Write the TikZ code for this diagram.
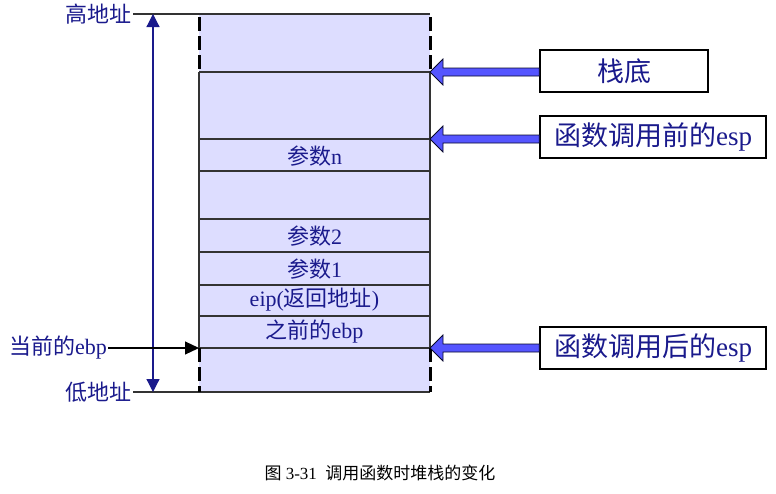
\documentclass[tikz,border=0pt]{standalone}
\usepackage{fontspec}
\setmainfont{Liberation Serif}
\newfontfamily\cjk{Noto Sans CJK SC}
\usetikzlibrary{arrows.meta,calc}
\definecolor{navy}{RGB}{26,26,140}
\definecolor{stackfill}{RGB}{221,221,255}
\definecolor{arrowblue}{RGB}{85,85,255}
\tikzset{
  cellline/.style={line width=1.2pt, draw=black!80},
  dashside/.style={line width=3pt, dash pattern=on 14pt off 5pt},
  celltext/.style={text=navy, font=\fontsize{22}{24}\selectfont, inner sep=0pt},
  sidelabel/.style={text=navy, font=\fontsize{22}{24}\selectfont, inner sep=1pt},
  rbox/.style={draw=black, line width=1.5pt, fill=white, text=navy, font=\fontsize{27}{30}\selectfont, minimum height=42pt, inner sep=0pt},
  blockarrow/.style={fill=arrowblue, draw=black!70!navy, line width=0.8pt},
}
\begin{document}
\begin{tikzpicture}[x=1pt,y=-1pt]
\useasboundingbox (0,0) rectangle (776,493);
% stack body
\fill[stackfill] (199,14) rectangle (430,392);
\foreach \yy in {72,139,171,219,252,285,316,348}
  \draw[cellline] (199,\yy) -- (430,\yy);
\draw[cellline] (133,14) -- (430,14);
\draw[cellline] (133,392) -- (430,392);
\draw[cellline] (199,72) -- (199,348);
\draw[cellline] (430,72) -- (430,348);
\draw[dashside] (199,17) -- (199,72);
\draw[dashside] (430,17) -- (430,72);
\draw[dashside] (199,348) -- (199,392);
\draw[dashside] (430,348) -- (430,392);
% cell texts
\node[celltext] (pn) at (314.5,156) {{\cjk 参数}n};
\node[celltext] (p2) at (314.5,236) {{\cjk 参数}2};
\node[celltext] (p1) at (314.5,269) {{\cjk 参数}1};
\node[celltext] (eip) at (314.5,300) {eip({\cjk 返回地址})};
\node[celltext] (oebp) at (314.5,332) {{\cjk 之前的}ebp};
% left side
\node[sidelabel, anchor=east] (hi) at (133,14) {\cjk 高地址};
\node[sidelabel, anchor=east] (lo) at (133,392) {\cjk 低地址};
\coordinate (atop) at (153,14);
\coordinate (abot) at (153,392);
\draw[navy, line width=1.2pt, {Triangle[length=13pt,width=13pt]}-{Triangle[length=13pt,width=13pt]}] (atop) -- (abot);
\node[sidelabel, anchor=east] (cebp) at (108,348) {{\cjk 当前的}ebp};
\coordinate (cebpend) at (199,348);
\draw[line width=1.2pt, -{Triangle[length=14pt,width=13pt]}] (cebp.east) -- (cebpend);
% right boxes
\node[rbox, minimum width=168pt] (b1) at (624,71) {\cjk 栈底};
\node[rbox, minimum width=226pt] (b2) at (653,137) {{\cjk 函数调用前的}esp};
\node[rbox, minimum width=226pt] (b3) at (653,348) {{\cjk 函数调用后的}esp};
% block arrows
\foreach \yy/\bx in {72/b1,139/b2,348/b3}{
  \draw[blockarrow] (430,\yy) -- (443,\yy-13) -- (443,\yy-4) -- (\bx.west |- 0,\yy-4) -- (\bx.west |- 0,\yy+4) -- (443,\yy+4) -- (443,\yy+13) -- cycle;
}
% caption
\node[font=\fontsize{17}{20}\selectfont] (cap) at (380,473) {{\cjk 图} 3-31\ \ {\cjk 调用函数时堆栈的变化}};
\end{tikzpicture}
\end{document}
